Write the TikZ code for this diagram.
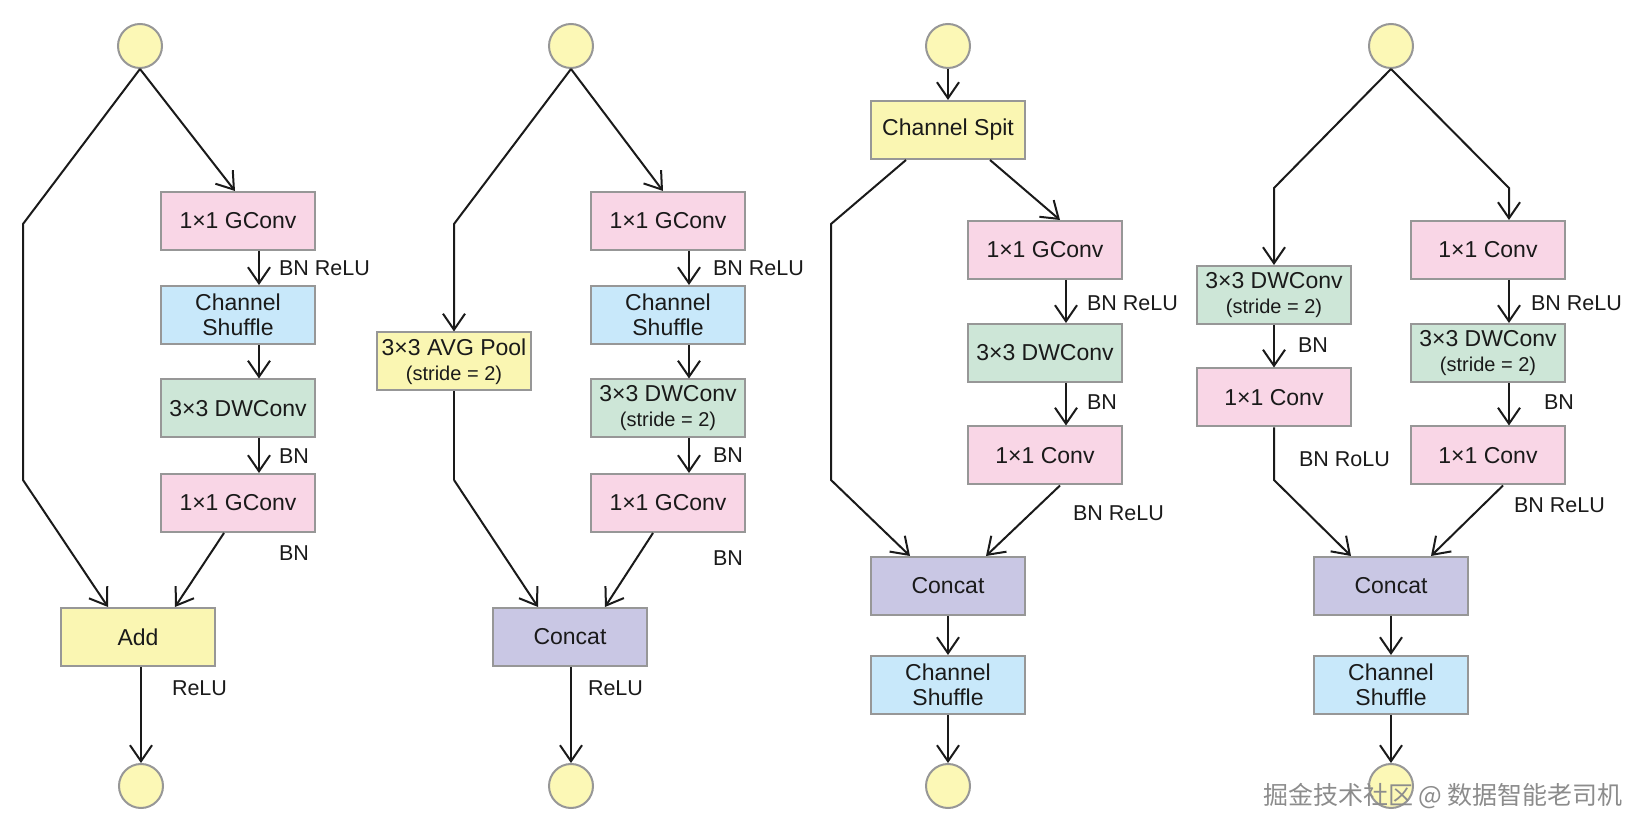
\documentclass[tikz,border=0pt]{standalone}
\usepackage{fontspec}
\setmainfont{Liberation Sans}
\newfontfamily\cjkfont{Noto Sans CJK SC}
\usetikzlibrary{arrows.meta}
\definecolor{unitink}{HTML}{1A1A1A}
\definecolor{edgegray}{HTML}{979797}
\definecolor{convpink}{HTML}{F9D6E6}
\definecolor{shufblue}{HTML}{C8E8FA}
\definecolor{dwgreen}{HTML}{CDE6D7}
\definecolor{poolyellow}{HTML}{FAF6B2}
\definecolor{catpurple}{HTML}{C9C7E4}
\definecolor{ioyellow}{HTML}{FCF8B6}

\begin{document}
\begin{tikzpicture}[x=0.5pt,y=-0.5pt,
  point/.style={coordinate},
  block/.style={draw=edgegray, line width=1pt, rectangle, minimum height=29pt, minimum width=77pt, inner sep=1pt, align=center, text=unitink, font=\fontsize{11.5}{12.5}\selectfont},
  conv/.style={block, fill=convpink},
  shuf/.style={block, fill=shufblue},
  dw/.style={block, fill=dwgreen},
  pool/.style={block, fill=poolyellow},
  cat/.style={block, fill=catpurple},
  io/.style={circle, draw=edgegray, line width=1pt, fill=ioyellow, minimum size=22pt, inner sep=0pt},
  lbl/.style={anchor=west, inner sep=0pt, text=unitink, font=\fontsize{10.75}{12}\selectfont},
  flow/.style={-{Straight Barb[length=8pt,width=11pt,line width=1pt]}},
  every path/.style={draw=unitink, line width=1pt}]
\path[use as bounding box, draw=none] (0,0) rectangle (1646,833);
\newcommand{\stridetxt}{\\{\fontsize{10}{12.5}\selectfont(stride = 2)}}

% unit 1
\node[io] (in1) at (140,46) {};
\node[conv] (g1a) at (238,221) {1×1 GConv};
\node[shuf] (sh1) at (238,315) {Channel\\Shuffle};
\node[dw] (dw1) at (238,408.5) {3×3 DWConv};
\node[conv] (g1b) at (238,503) {1×1 GConv};
\node[pool] (add1) at (138,637) {Add};
\node[io] (out1) at (141,786) {};
\node[point] (p1a) at (23,224) {};
\node[point] (p1b) at (23,480) {};
\node[lbl] (l1a) at (278,268) {BN ReLU};
\node[lbl] (l1b) at (278,456) {BN};
\node[lbl] (l1c) at (278,553) {BN};
\node[lbl] (l1d) at (171,688) {ReLU};
\draw[flow] (in1.south) -- (p1a) -- (p1b) -- ([xshift=-15pt]add1.north);
\draw[flow] (in1.south) -- ([xshift=-1.5pt]g1a.north);
\draw[flow] ([xshift=10.5pt]g1a.south) -- ([xshift=10.5pt]sh1.north);
\draw[flow] ([xshift=10.5pt]sh1.south) -- ([xshift=10.5pt]dw1.north);
\draw[flow] ([xshift=10.5pt]dw1.south) -- ([xshift=10.5pt]g1b.north);
\draw[flow] ([xshift=-7pt]g1b.south) -- ([xshift=18.5pt]add1.north);
\draw[flow] ([xshift=1.5pt]add1.south) -- (out1.north);

% unit 2
\node[io] (in2) at (571,46) {};
\node[pool] (pool2) at (454,361.5) {3×3 AVG Pool\stridetxt};
\node[conv] (g2a) at (668,221) {1×1 GConv};
\node[shuf] (sh2) at (668,315) {Channel\\Shuffle};
\node[dw] (dw2) at (668,408.5) {3×3 DWConv\stridetxt};
\node[conv] (g2b) at (668,503) {1×1 GConv};
\node[cat] (cat2) at (570,637) {Concat};
\node[io] (out2) at (571,786) {};
\node[point] (p2a) at (454,224) {};
\node[point] (p2b) at (454,480) {};
\node[lbl] (l2a) at (712,268) {BN ReLU};
\node[lbl] (l2b) at (712,455) {BN};
\node[lbl] (l2c) at (712,558) {BN};
\node[lbl] (l2d) at (587,688) {ReLU};
\draw[flow] (in2.south) -- (p2a) -- (pool2.north);
\draw (pool2.south) -- (p2b);
\draw[flow] (p2b) -- ([xshift=-16pt]cat2.north);
\draw[flow] (in2.south) -- ([xshift=-2.5pt]g2a.north);
\draw[flow] ([xshift=10.5pt]g2a.south) -- ([xshift=10.5pt]sh2.north);
\draw[flow] ([xshift=10.5pt]sh2.south) -- ([xshift=10.5pt]dw2.north);
\draw[flow] ([xshift=10.5pt]dw2.south) -- ([xshift=10.5pt]g2b.north);
\draw[flow] ([xshift=-7.5pt]g2b.south) -- ([xshift=17.5pt]cat2.north);
\draw[flow] ([xshift=0.5pt]cat2.south) -- (out2.north);

% unit 3
\node[io] (in3) at (948,46) {};
\node[pool] (split3) at (948,130) {Channel Spit};
\node[conv] (g3a) at (1045,250) {1×1 GConv};
\node[dw] (dw3) at (1045,353) {3×3 DWConv};
\node[conv] (c3) at (1045,455.5) {1×1 Conv};
\node[cat] (cat3) at (948,586) {Concat};
\node[shuf] (sh3) at (948,685) {Channel\\Shuffle};
\node[io] (out3) at (948,786) {};
\node[point] (p3a) at (831,224) {};
\node[point] (p3b) at (831,480) {};
\node[lbl] (l3a) at (1086,303) {BN ReLU};
\node[lbl] (l3b) at (1086,402) {BN};
\node[lbl] (l3c) at (1072,513) {BN ReLU};
\draw[flow] (in3.south) -- (split3.north);
\draw[flow] ([xshift=-21pt]split3.south) -- (p3a) -- (p3b) -- ([xshift=-19pt]cat3.north);
\draw[flow] ([xshift=21pt]split3.south) -- ([xshift=7.5pt]g3a.north);
\draw[flow] ([xshift=10.5pt]g3a.south) -- ([xshift=10.5pt]dw3.north);
\draw[flow] ([xshift=10.5pt]dw3.south) -- ([xshift=10.5pt]c3.north);
\draw[flow] ([xshift=7.5pt]c3.south) -- ([xshift=19pt]cat3.north);
\draw[flow] (cat3.south) -- (sh3.north);
\draw[flow] (sh3.south) -- (out3.north);

% unit 4
\node[io] (in4) at (1391,46) {};
\node[dw] (dwl4) at (1274,295) {3×3 DWConv\stridetxt};
\node[conv] (cl4) at (1274,397.5) {1×1 Conv};
\node[conv] (cr4a) at (1488,250) {1×1 Conv};
\node[dw] (dwr4) at (1488,353) {3×3 DWConv\stridetxt};
\node[conv] (cr4b) at (1488,455.5) {1×1 Conv};
\node[cat] (cat4) at (1391,586) {Concat};
\node[shuf] (sh4) at (1391,685) {Channel\\Shuffle};
\node[io] (out4) at (1391,786) {};
\node[point] (p4a) at (1274,188) {};
\node[point] (p4b) at (1509,188) {};
\node[point] (p4c) at (1274,480) {};
\node[lbl] (l4a) at (1530,303) {BN ReLU};
\node[lbl] (l4b) at (1297,345) {BN};
\node[lbl] (l4c) at (1543,402) {BN};
\node[lbl] (l4d) at (1298,459) {BN RoLU};
\node[lbl] (l4e) at (1513,505) {BN ReLU};
\draw[flow] (in4.south) -- (p4a) -- (dwl4.north);
\draw[flow] (in4.south) -- (p4b) -- ([xshift=10.5pt]cr4a.north);
\draw[flow] (dwl4.south) -- (cl4.north);
\draw[flow] (cl4.south) -- (p4c) -- ([xshift=-20pt]cat4.north);
\draw[flow] ([xshift=10.5pt]cr4a.south) -- ([xshift=10.5pt]dwr4.north);
\draw[flow] ([xshift=10.5pt]dwr4.south) -- ([xshift=10.5pt]cr4b.north);
\draw[flow] ([xshift=7.5pt]cr4b.south) -- ([xshift=20pt]cat4.north);
\draw[flow] (cat4.south) -- (sh4.north);
\draw[flow] (sh4.south) -- (out4.north);

\node[anchor=west, inner sep=0pt, text=black!45, font=\cjkfont\fontsize{12.5}{14}\selectfont] (mark) at (1262,796) {掘金技术社区 @ 数据智能老司机};
\end{tikzpicture}
\end{document}
